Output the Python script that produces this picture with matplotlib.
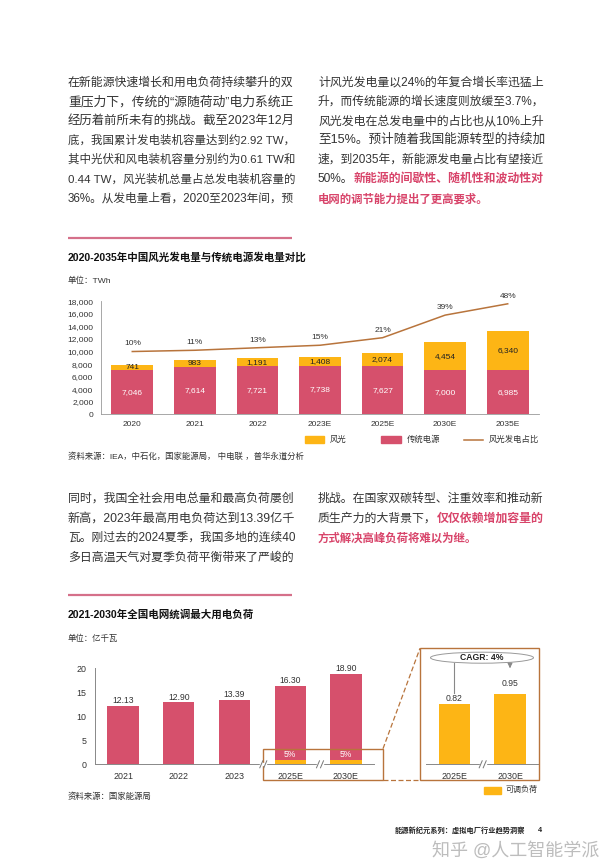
import matplotlib
matplotlib.use('Agg')
import matplotlib.pyplot as plt
from matplotlib.patches import Rectangle, Ellipse

plt.rcParams['font.family'] = ['Liberation Sans', 'Noto Sans CJK SC']

W, H = 610, 868
PINK = '#D6506C'
YELLOW = '#FDB515'
BROWN = '#B8743C'
TEXT = '#333333'
RED_TEXT = '#D8446A'

# chart 1
years1 = ['2020', '2021', '2022', '2023E', '2025E', '2030E', '2035E']
traditional = [7046, 7614, 7721, 7738, 7627, 7000, 6985]
wind_solar = [741, 983, 1191, 1408, 2074, 4454, 6340]
share = [10, 11, 13, 15, 21, 39, 48]
ticks1 = [0, 2000, 4000, 6000, 8000, 10000, 12000, 14000, 16000, 18000]

# chart 2
years2 = ['2021', '2022', '2023', '2025E', '2030E']
max_load = [12.13, 12.90, 13.39, 16.30, 18.90]
adjustable = [0, 0, 0, 0.82, 0.95]
ticks2 = [0, 5, 10, 15, 20]
zoom_years = ['2025E', '2030E']
zoom_load = [0.82, 0.95]

para1_left = [
    '在新能源快速增长和用电负荷持续攀升的双',
    '重压力下，传统的“源随荷动”电力系统正',
    '经历着前所未有的挑战。截至2023年12月',
    '底，我国累计发电装机容量达到约2.92 TW，',
    '其中光伏和风电装机容量分别约为0.61 TW和',
    '0.44 TW，风光装机总量占总发电装机容量的',
    '36%。从发电量上看，2020至2023年间，预',
]
para1_right = [
    '计风光发电量以24%的年复合增长率迅猛上',
    '升，而传统能源的增长速度则放缓至3.7%，',
    '风光发电在总发电量中的占比也从10%上升',
    '至15%。预计随着我国能源转型的持续加',
    '速，到2035年，新能源发电量占比有望接近',
]
para2_left = [
    '同时，我国全社会用电总量和最高负荷屡创',
    '新高，2023年最高用电负荷达到13.39亿千',
    '瓦。刚过去的2024夏季，我国多地的连续40',
    '多日高温天气对夏季负荷平衡带来了严峻的',
]

fig = plt.figure(figsize=(W / 100, H / 100), dpi=100, facecolor='white')
renderer = fig.canvas.get_renderer()


def pixel_axes(left, top, right, bottom):
    return fig.add_axes([left / W, 1 - bottom / H, (right - left) / W, (bottom - top) / H])


page = fig.add_axes([0, 0, 1, 1], zorder=10)
page.set_xlim(0, W)
page.set_ylim(H, 0)
page.axis('off')
page.patch.set_alpha(0)


def put(x, y, s, size, color=TEXT, weight='normal', ha='left', **kw):
    return page.text(x, y, s, fontsize=size, color=color, fontweight=weight,
                     ha=ha, va='center', **kw)


def text_line(x, y, parts, width=None, size=7.7):
    # parts are (string, color, weight); stretch the line to the column width
    items = [put(x, y, s, size, color=c, weight=w) for s, c, w in parts]
    widths = [t.get_window_extent(renderer).width for t in items]
    scale = width / sum(widths) if width else 1
    pos = x
    for t, w in zip(items, widths):
        t.set_fontsize(size * scale)
        t.set_x(pos)
        pos += w * scale


def paragraph(x, ys, lines, width=225):
    for y, s in zip(ys, lines):
        text_line(x, y, [(s, TEXT, 'normal')], width)


def axis_break(x, y):
    page.add_patch(Rectangle((x - 3, y - 1), 6, 2, color='white', zorder=3))
    for dx in (-2, 2):
        page.plot([x + dx - 1.5, x + dx + 1.5], [y + 3.5, y - 3.5], color='#777777', lw=0.7, zorder=4)


ys1 = [82.3, 102, 121, 140, 159.3, 179, 198.3]
paragraph(68, ys1, para1_left)
paragraph(318, ys1, para1_right)
text_line(318, ys1[5], [('50%。', TEXT, 'normal'), ('新能源的间歇性、随机性和波动性对', RED_TEXT, 'bold')], 225)
text_line(318, ys1[6], [('电网的调节能力提出了更高要求。', RED_TEXT, 'bold')], 170)

ys2 = [499, 518.3, 538, 557.7]
paragraph(68, ys2, para2_left)
text_line(318, ys2[0], [('挑战。在国家双碳转型、注重效率和推动新', TEXT, 'normal')], 225)
text_line(318, ys2[1], [('质生产力的大背景下，', TEXT, 'normal'), ('仅仅依赖增加容量的', RED_TEXT, 'bold')], 225)
text_line(318, ys2[2], [('方式解决高峰负荷将难以为继。', RED_TEXT, 'bold')], 159)

# section rules and headings
for y in (237.5, 595):
    page.plot([68, 292], [y, y], color='#D5708A', lw=1.6, solid_capstyle='butt')
text_line(68, 257, [('2020-2035年中国风光发电量与传统电源发电量对比', '#111111', 'bold')], 238)
put(68, 281, '单位：TWh', 6.1)
put(68, 457, '资料来源：IEA，中石化，国家能源局， 中电联 ，普华永道分析', 6.05)
text_line(68, 615, [('2021-2030年全国电网统调最大用电负荷', '#111111', 'bold')], 186)
put(68, 639, '单位：亿千瓦', 6.05)
put(68, 797, '资料来源：国家能源局', 6.05)

# chart 1
ax1 = pixel_axes(101, 301.3, 539, 414.3)
x1 = range(len(years1))
ax1.bar(x1, traditional, width=0.666, color=PINK, zorder=2)
ax1.bar(x1, wind_solar, width=0.666, bottom=traditional, color=YELLOW, zorder=2)
ax1.set_xlim(-0.5, 6.5)
ax1.set_ylim(0, 18000)
ax1.set_yticks(ticks1, [f'{v:,}' for v in ticks1])
ax1.set_xticks(list(x1), years1)
ax1.tick_params(length=0, labelsize=6, labelcolor=TEXT)
ax1.tick_params(axis='y', pad=5.5)
ax1.tick_params(axis='x', pad=4.5)
for name in ('top', 'right'):
    ax1.spines[name].set_visible(False)
for name in ('left', 'bottom'):
    ax1.spines[name].set_color('#999999')
    ax1.spines[name].set_linewidth(0.6)
for i, (t, w) in enumerate(zip(traditional, wind_solar)):
    ax1.text(i, t / 2, f'{t:,}', color='white', fontsize=6, ha='center', va='center', zorder=5)
    ax1.text(i, t + w / 2, f'{w:,}', color='#222222', fontsize=6, ha='center', va='center', zorder=5)

line_ax = ax1.twinx()
line_ax.set_ylim(-40, 50)
line_ax.plot(x1, share, color=BROWN, lw=1.1)
line_ax.axis('off')
for i, s in enumerate(share):
    line_ax.annotate(f'{s}%', (i, s), xytext=(0, 5.5), textcoords='offset points',
                     fontsize=6, color=TEXT, ha='center', va='center')

page.add_patch(Rectangle((305, 436), 19, 7, color=YELLOW))
put(330, 439.5, '风光', 6)
page.add_patch(Rectangle((381, 436), 20, 7, color=PINK))
put(407, 439.5, '传统电源', 6)
page.plot([464, 483], [439.5, 439.5], color=BROWN, lw=1.1)
put(489, 439.5, '风光发电占比', 6)

# chart 2
ax2 = pixel_axes(95.3, 668.3, 373.7, 764.3)
x2 = range(len(years2))
ax2.bar(x2, max_load, width=0.5625, color=PINK, zorder=2)
ax2.bar(x2, adjustable, width=0.5625, color=YELLOW, zorder=3)
ax2.set_xlim(-0.5, 4.5)
ax2.set_ylim(0, 20)
ax2.set_yticks(ticks2)
ax2.set_xticks(list(x2), years2)
ax2.tick_params(length=0, labelsize=6.4, labelcolor=TEXT)
ax2.tick_params(axis='y', pad=6.5)
ax2.tick_params(axis='x', pad=5.5)
for name in ('top', 'right'):
    ax2.spines[name].set_visible(False)
for name in ('left', 'bottom'):
    ax2.spines[name].set_color('#888888')
    ax2.spines[name].set_linewidth(0.7)
for i, v in enumerate(max_load):
    ax2.text(i, v + 0.15, f'{v:.2f}', fontsize=6.2, color=TEXT, ha='center', va='bottom', zorder=5)
for i in (3, 4):
    ax2.text(i, 2.1, '5%', fontsize=6.2, color='white', ha='center', va='center', zorder=5)

ax3 = pixel_axes(426, 650, 539, 764.3)
x3 = range(len(zoom_years))
ax3.bar(x3, zoom_load, width=0.5625, color=YELLOW, zorder=2)
ax3.set_xlim(-0.51, 1.52)
ax3.set_ylim(0, 1.555)
ax3.set_xticks(list(x3), zoom_years)
ax3.set_yticks([])
ax3.tick_params(length=0, labelsize=6.4, labelcolor=TEXT, pad=5.5)
for name in ('top', 'right', 'left'):
    ax3.spines[name].set_visible(False)
ax3.spines['bottom'].set_color('#888888')
ax3.spines['bottom'].set_linewidth(0.7)
ax3.text(0, zoom_load[0] + 0.02, f'{zoom_load[0]:.2f}', fontsize=6.2, color=TEXT, ha='center', va='bottom', zorder=5)
ax3.text(1, zoom_load[1] + 0.09, f'{zoom_load[1]:.2f}', fontsize=6.2, color=TEXT, ha='center', va='bottom', zorder=5)

for x in (263.3, 320, 482.7):
    axis_break(x, 764.3)

# zoom frames
page.add_patch(Rectangle((263, 748.7), 120, 31.3, fill=False, ec=BROWN, lw=1))
page.add_patch(Rectangle((420, 648.3), 119.3, 131.7, fill=False, ec=BROWN, lw=1))
page.plot([383, 420], [748.7, 648.3], color=BROWN, lw=0.9, ls=(0, (4, 2)))
page.plot([383, 420], [780, 780], color=BROWN, lw=0.9, ls=(0, (4, 2)))

page.plot([454.3, 454.3], [663, 693], color='#888888', lw=0.8)
page.add_patch(Ellipse((482, 657.7), 103, 11, fc='white', ec='#999999', lw=0.7, zorder=3))
put(482, 657.7, 'CAGR: 4%', 6.2, color='#222222', weight='bold', ha='center', zorder=4)
page.annotate('', xy=(510, 671), xytext=(510, 663),
              arrowprops=dict(arrowstyle='-|>', color='#888888', lw=0.8, mutation_scale=7))

page.add_patch(Rectangle((484, 786.5), 17, 7, color=YELLOW))
put(506, 790, '可调负荷', 5.8)

# footer
put(395, 830.5, '能源新纪元系列：虚拟电厂行业趋势洞察', 5.2, color='#222222', weight='bold')
put(540, 830.5, '4', 5.2, color='#222222', weight='bold', ha='center')
put(432, 851, '知乎 @人工智能学派', 13, color='#BDBDBD')

fig.savefig('out.png', dpi=100, facecolor='white')
